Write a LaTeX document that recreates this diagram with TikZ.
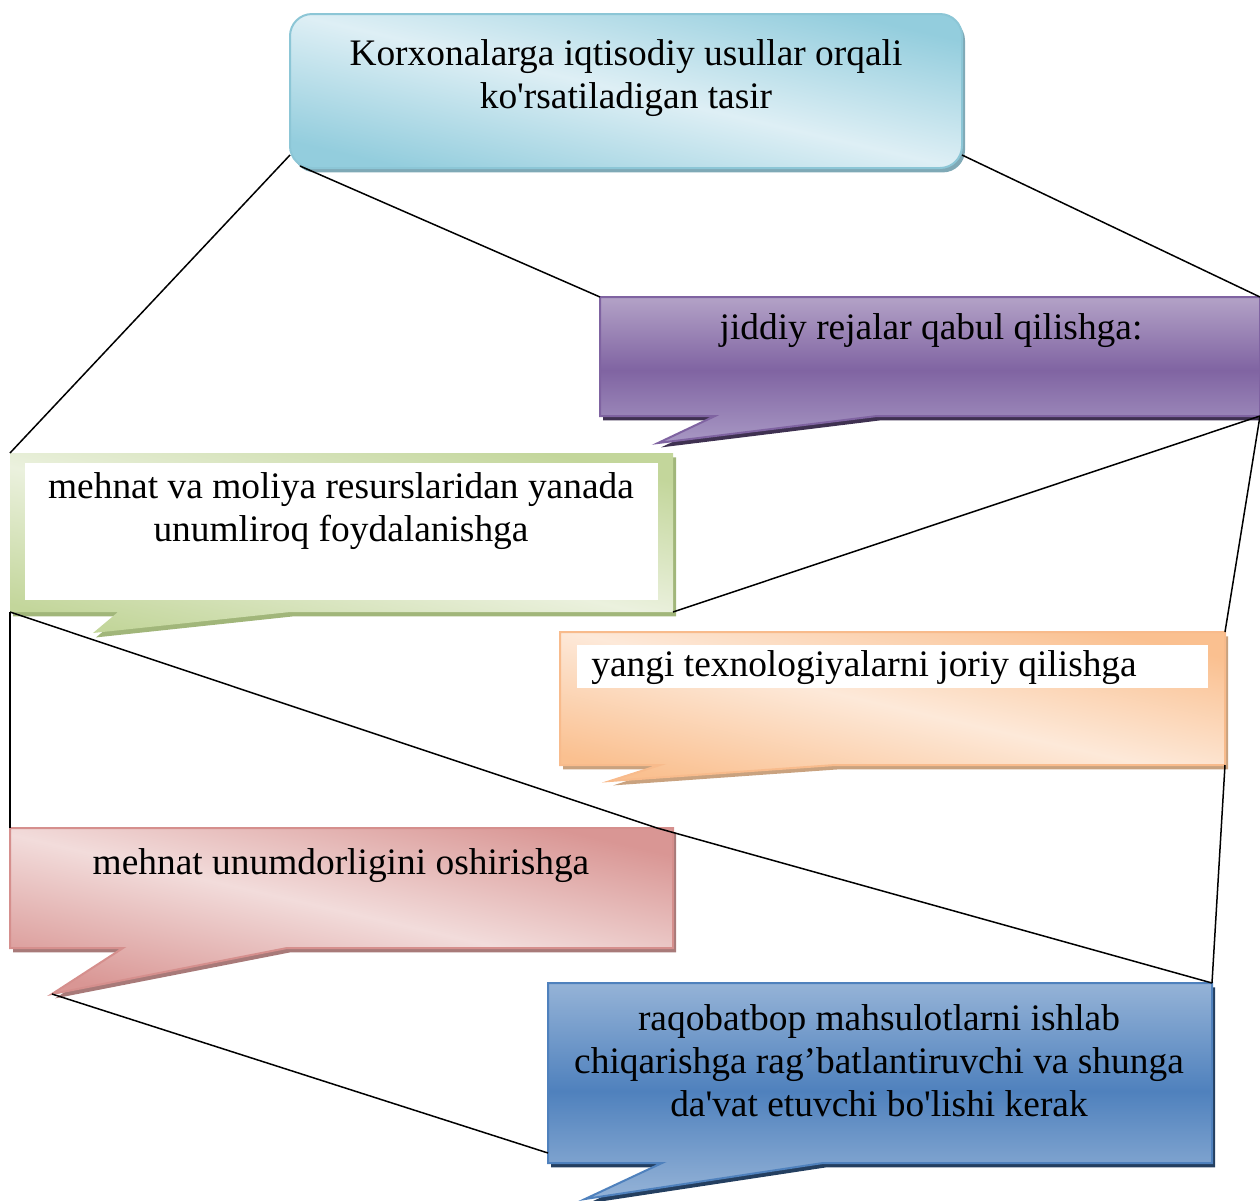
\documentclass[tikz,border=0pt]{standalone}
\usepackage{fontspec}
\setmainfont{Liberation Serif}[Ligatures=TeXOff]
\usetikzlibrary{calc}
\definecolor{topdark}{HTML}{93CDDD}
\definecolor{toplight}{HTML}{DEEFF5}
\definecolor{topborder}{HTML}{8CC6D6}
\definecolor{topshadow}{HTML}{7FA9B6}
\definecolor{purpletop}{HTML}{B3A2C7}
\definecolor{purplemid}{HTML}{8064A2}
\definecolor{purplebot}{HTML}{A898C4}
\definecolor{purpleborder}{HTML}{7F63A1}
\definecolor{purpleshadow}{HTML}{3F3151}
\definecolor{greendark}{HTML}{C3D69B}
\definecolor{greenlight}{HTML}{EBF1DE}
\definecolor{greenshadow}{HTML}{A1B67A}
\definecolor{orangedark}{HTML}{FAC090}
\definecolor{orangelight}{HTML}{FDE9D9}
\definecolor{orangeborder}{HTML}{F8BB8C}
\definecolor{orangeshadow}{HTML}{C9A27F}
\definecolor{pinkdark}{HTML}{D99694}
\definecolor{pinklight}{HTML}{F2DCDB}
\definecolor{pinkborder}{HTML}{D58F8D}
\definecolor{pinkshadow}{HTML}{A87A79}
\definecolor{bluetop}{HTML}{95B3D7}
\definecolor{bluemid}{HTML}{4F81BD}
\definecolor{blueborder}{HTML}{4F81BD}
\definecolor{blueshadow}{HTML}{243F60}
\newcommand\bubblepath[4]{(#1.north west) -- (#1.north east) -- (#1.south east) -- ($(#1.south west)+(#3,0)$) -- (#4) -- ($(#1.south west)+(#2,0)$) -- (#1.south west) -- cycle}
\begin{document}
\begin{tikzpicture}[x=0.5pt,y=-0.5pt,
  boxshape/.style={rectangle, inner sep=0pt, outer sep=0pt},
  txt/.style={inner sep=0pt, font=\fontsize{18.7pt}{21.5pt}\selectfont, text=black},
  conn/.style={draw=black, line width=0.75pt},
  diagshade/.style 2 args={shading=axis, top color=#1, bottom color=#1, middle color=#2, shading angle=-13},
  shadowshift/.style={transform canvas={shift={(1.5pt,-2.2pt)}}}
]
\useasboundingbox (0,0) rectangle (1260,1201);
% box nodes
\node[boxshape, minimum width=336pt, minimum height=77pt] (top) at (626,91) {};
\node[boxshape, minimum width=330pt, minimum height=59.5pt] (purple) at (930,356.5) {};
\node[boxshape, minimum width=331.5pt, minimum height=79.5pt] (green) at (341.5,532.5) {};
\node[boxshape, minimum width=332.5pt, minimum height=66.5pt] (orange) at (892.5,698.5) {};
\node[boxshape, minimum width=331.5pt, minimum height=60pt] (pink) at (341.5,888) {};
\node[boxshape, minimum width=332pt, minimum height=90pt] (blue) at (880,1073) {};
% tail tips
\coordinate (purpletip) at (658,443);
\coordinate (greentip) at (93,633);
\coordinate (orangetip) at (610,781);
\coordinate (pinktip) at (52,994);
\coordinate (bluetip) at (585,1199);
\coordinate (pinkmark) at ($(pink.north east)+(-16,0)$);
% top box
\fill[topshadow, rounded corners=11pt, shadowshift] (top.north west) rectangle (top.south east);
\path[diagshade={topdark}{toplight}, rounded corners=11pt, draw=topborder, line width=1pt] (top.north west) rectangle (top.south east);
% purple
\fill[purpleshadow, shadowshift] \bubblepath{purple}{115}{277}{purpletip};
\path[shading=axis, top color=purpletop, bottom color=purplebot, middle color=purplemid, draw=purpleborder, line width=1pt] \bubblepath{purple}{115}{277}{purpletip};
% green
\fill[greenshadow, shadowshift] \bubblepath{green}{108}{280}{greentip};
\path[diagshade={greendark}{greenlight}] \bubblepath{green}{108}{280}{greentip};
\fill[white] ($(green.north west)+(15,10)$) rectangle ($(green.south east)+(-15,-12)$);
% orange
\fill[orangeshadow, shadowshift] \bubblepath{orange}{100}{275}{orangetip};
\path[diagshade={orangedark}{orangelight}, draw=orangeborder, line width=1pt] \bubblepath{orange}{100}{275}{orangetip};
\fill[white] ($(orange.north west)+(17,13)$) rectangle ($(orange.north east)+(-17,56)$);
% pink
\fill[pinkshadow, shadowshift] \bubblepath{pink}{113}{277}{pinktip};
\path[diagshade={pinkdark}{pinklight}, draw=pinkborder, line width=1pt] \bubblepath{pink}{113}{277}{pinktip};
% blue
\fill[blueshadow, shadowshift] \bubblepath{blue}{114}{275}{bluetip};
\path[shading=axis, top color=bluetop, bottom color=bluetop, middle color=bluemid, draw=blueborder, line width=1pt] \bubblepath{blue}{114}{275}{bluetip};
% texts
\node[txt, align=center] (toptext) at (626,78) {Korxonalarga iqtisodiy usullar orqali\\ko'rsatiladigan tasir};
\node[txt] (purpletext) at (931,331) {jiddiy rejalar qabul qilishga:};
\node[txt, align=center] (greentext) at (341,511) {mehnat va moliya resurslaridan yanada\\unumliroq foydalanishga};
\node[txt, anchor=west] (orangetext) at (591,668) {yangi texnologiyalarni joriy qilishga};
\node[txt] (pinktext) at (341,866) {mehnat unumdorligini oshirishga};
\node[txt, align=center] (bluetext) at (879,1061) {raqobatbop mahsulotlarni ishlab\\chiqarishga rag’batlantiruvchi va shunga\\da'vat etuvchi bo'lishi kerak};
% connectors
\draw[conn] ($(top.south west)+(0,-13)$) -- (green.north west);
\draw[conn] ($(top.south west)+(10,-2)$) -- (purple.north west);
\draw[conn] ($(top.south east)+(0,-13)$) -- (purple.north east);
\draw[conn] (purple.south east) -- (green.south east);
\draw[conn] (purple.south east) -- (orange.north east);
\draw[conn] (orange.south east) -- (blue.north east);
\draw[conn] (green.south west) -- (pink.north west);
\draw[conn] (green.south west) -- (pinkmark);
\draw[conn] (pinkmark) -- (blue.north east);
\draw[conn] (pinktip) -- ($(blue.south west)+(0,-10)$);
\end{tikzpicture}
\end{document}
